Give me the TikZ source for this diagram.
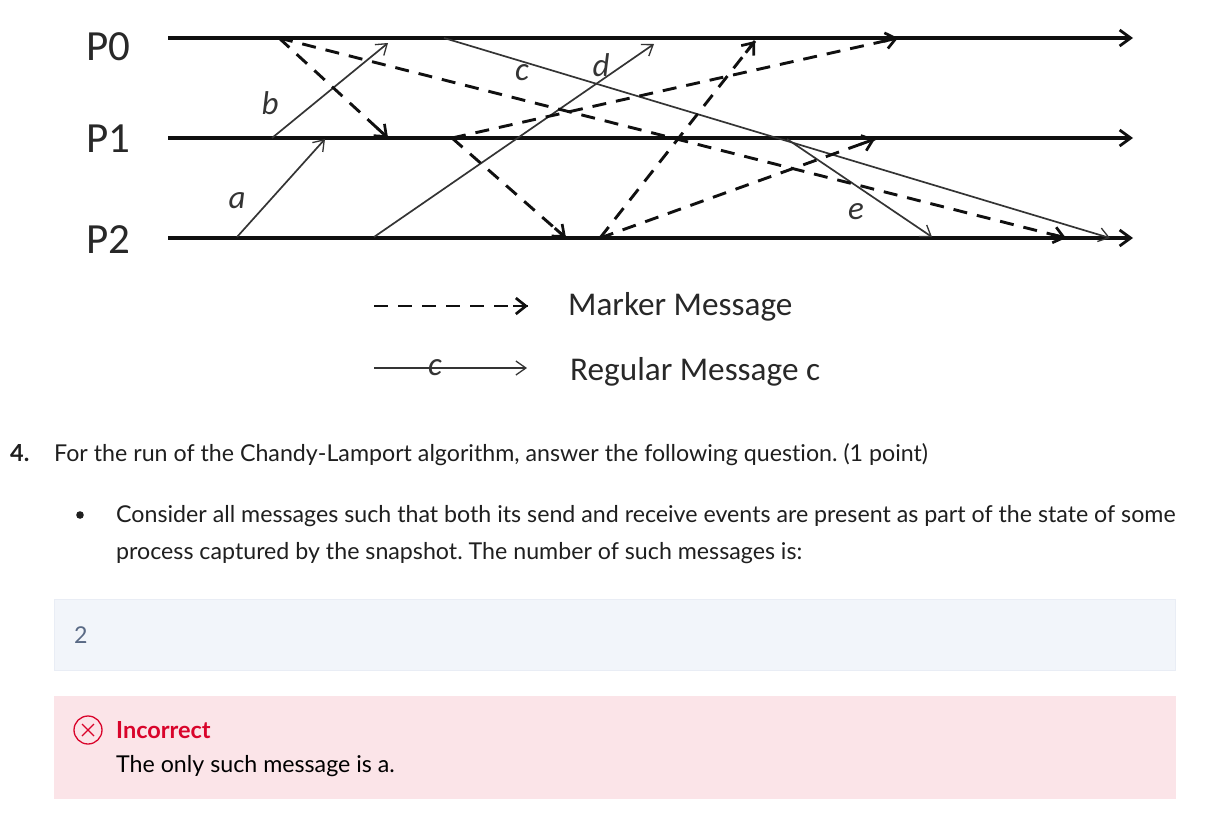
\documentclass[tikz,border=0pt]{standalone}
\usepackage{fontspec}
\setmainfont[Ligatures=NoCommon]{Lato}
\newfontfamily\calib{Carlito}
\usetikzlibrary{arrows.meta,calc}
\frenchspacing
\definecolor{ink}{HTML}{101010}
\definecolor{txt}{HTML}{1F1F1F}
\definecolor{boxblue}{HTML}{F2F5FA}
\definecolor{boxblueline}{HTML}{E9EDF5}
\definecolor{boxred}{HTML}{FBE4E8}
\definecolor{alert}{HTML}{D9042B}
\definecolor{numgrey}{HTML}{5A6A85}
\tikzset{
  timeline/.style={draw=ink,line width=3.3pt,-{Straight Barb[length=11pt,width=16pt,line width=2.8pt]}},
  regular/.style={draw=ink!85,line width=1.7pt,-{Straight Barb[length=10pt,width=14pt,line width=1.3pt]}},
  marker/.style={draw=ink,line width=2.9pt,dash pattern=on 14pt off 10pt},
  markerhead/.style={draw=ink,line width=2.9pt,-{Straight Barb[length=10pt,width=16pt,line width=2.7pt]}},
  proc/.style={anchor=base west,inner sep=0pt,font=\calib\fontsize{43}{43}\selectfont,text=ink!90},
  msg/.style={anchor=base,inner sep=0pt,font=\calib\itshape\fontsize{33}{33}\selectfont,text=ink!85},
  legend/.style={anchor=base west,inner sep=0pt,font=\calib\fontsize{33.2}{33.2}\selectfont,text=ink!90},
  body/.style={anchor=base west,inner sep=0pt,font=\fontsize{23.2}{23.2}\selectfont,text=txt},
}
\newcommand{\markmsg}[2]{%
  \draw[marker] (#1) -- (#2);
  \draw[markerhead] ($(#2)!15pt!(#1)$) -- (#2);
}
\begin{document}
\begin{tikzpicture}[x=1pt,y=-1pt]
\useasboundingbox (0,0) rectangle (1206,817);
\fill[white] (0,0) rectangle (1206,817);
% anchors
\coordinate (p0s) at (168,38);  \coordinate (p0e) at (1133,38);
\coordinate (p1s) at (168,138); \coordinate (p1e) at (1133,138);
\coordinate (p2s) at (168,238); \coordinate (p2e) at (1133,238);
\coordinate (as) at (237,237);  \coordinate (ae) at (325,139);
\coordinate (bs) at (272,138);  \coordinate (be) at (388,43);
\coordinate (cs) at (444,38);   \coordinate (ce) at (1110,238);
\coordinate (ds) at (374,237);  \coordinate (de) at (654,44);
\coordinate (es) at (787,139);  \coordinate (ee) at (932,237);
\coordinate (ma) at (279,38);   \coordinate (mae) at (388,138);  \coordinate (maf) at (1066,238);
\coordinate (mb) at (452,138);  \coordinate (mbe) at (566,238);  \coordinate (mbf) at (898,38);
\coordinate (mc) at (600,238);  \coordinate (mce) at (755,41);   \coordinate (mcf) at (875,139);
\coordinate (lma) at (374,306); \coordinate (lmb) at (528,306);
\coordinate (lra) at (374,368); \coordinate (lrb) at (527,368);
% timelines
\draw[timeline] (p0s) -- (p0e);
\draw[timeline] (p1s) -- (p1e);
\draw[timeline] (p2s) -- (p2e);
\node[proc] (n0) at (86,60) {P0};
\node[proc] (n1) at (86,152) {P1};
\node[proc] (n2) at (86,253) {P2};
% regular messages
\draw[regular] (as) -- (ae);
\draw[regular] (bs) -- (be);
\draw[regular] (cs) -- (ce);
\draw[regular] (ds) -- (de);
\draw[regular] (es) -- (ee);
% marker messages
\markmsg{ma}{mae}
\markmsg{ma}{maf}
\markmsg{mb}{mbe}
\markmsg{mb}{mbf}
\markmsg{mc}{mce}
\markmsg{mc}{mcf}
% message labels
\node[msg] (la) at (237,208) {a};
\node[msg] (lb) at (270,114) {b};
\node[msg] (lc) at (522,80) {c};
\node[msg] (ld) at (601,76) {d};
\node[msg] (le) at (856,219) {e};
% legend
\markmsg{lma}{lmb}
\draw[regular] (lra) -- (lrb);
\node[msg] (lg) at (435,375) {c};
\node[legend] (t1) at (568,315) {Marker Message};
\node[legend] (t2) at (570,380) {Regular Message c};
% question
\node[body,font=\bfseries\fontsize{23.5}{23.5}\selectfont] (q) at (10,461) {4.};
\node[body] (q1) at (54,461) {For the run of the Chandy-Lamport algorithm, answer the following question. (1 point)};
\fill[txt] (80,515) circle (3.8);
\node[body] (q2) at (116,522) {Consider all messages such that both its send and receive events are present as part of the state of some};
\node[body] (q3) at (116,559) {process captured by the snapshot. The number of such messages is:};
% answer
\draw[boxblueline,fill=boxblue,line width=1pt] (54.5,599.5) rectangle (1175.5,670);
\node[body,text=numgrey] (ans) at (74,643) {2};
% feedback
\fill[boxred] (54,696) rectangle (1176,799);
\draw[alert,line width=1.3pt] (88,730) circle (14);
\draw[alert,line width=1.2pt] (82,724) -- (94,736) (94,724) -- (82,736);
\node[body,text=alert,font=\bfseries\fontsize{23.5}{23.5}\selectfont] (inc) at (116,738) {Incorrect};
\node[body,text=black] (only) at (116,772) {The only such message is a.};
\end{tikzpicture}
\end{document}
